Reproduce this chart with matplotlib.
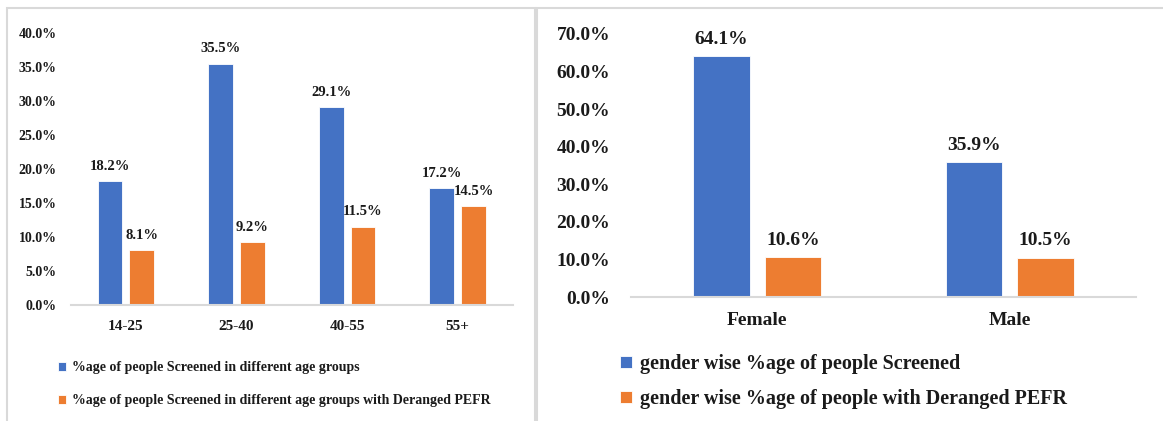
import matplotlib
matplotlib.use("Agg")
import matplotlib.pyplot as plt
from matplotlib.patches import Rectangle
import numpy as np

plt.rcParams['font.family'] = ['Liberation Serif', 'DejaVu Serif']
plt.rcParams['font.weight'] = 'bold'

# Data
age_groups = ["14-25", "25-40", "40-55", "55+"]
age_screened = [18.2, 35.5, 29.1, 17.2]
age_deranged = [8.1, 9.2, 11.5, 14.5]
age_labels = ["%age of people Screened in different age groups",
              "%age of people Screened in different age groups with Deranged PEFR"]

genders = ["Female", "Male"]
gender_screened = [64.1, 35.9]
gender_deranged = [10.6, 10.5]
gender_labels = ["gender wise %age of people Screened",
                 "gender wise %age of people with Deranged PEFR"]

BLUE = "#4472C4"
ORANGE = "#ED7D31"
TXT = "#1a1a1a"
GRID = "#D9D9D9"

W, H = 1163, 421
fig = plt.figure(figsize=(W / 100, H / 100), dpi=100)

# panel borders
def px_rect(x0, y0, x1, y1):
    return Rectangle((x0 / W, 1 - y1 / H), (x1 - x0) / W, (y1 - y0) / H,
                     transform=fig.transFigure, fill=False, edgecolor=GRID, lw=1.5)
fig.patches.append(px_rect(7, 8, 535, 430))
fig.patches.append(px_rect(537, 8, 1170, 430))


def panel(rect, cats, s1, s2, labels, ymax, ystep, tick_fs, lab_fs, xt_fs, leg_fs,
          bw, off, ypad, xpad, leg_anchor, leg_spacing):
    ax = fig.add_axes(rect)
    x = np.arange(len(cats))
    b1 = ax.bar(x - off, s1, bw, color=BLUE, edgecolor='white', lw=0.6, label=labels[0])
    b2 = ax.bar(x + off, s2, bw, color=ORANGE, edgecolor='white', lw=0.6, label=labels[1])
    for bars in (b1, b2):
        for r in bars:
            ax.annotate(f"{r.get_height():.1f}%", (r.get_x() + r.get_width() / 2, r.get_height()),
                        xytext=(0, 6), textcoords='offset points', ha='center', va='bottom',
                        fontsize=lab_fs, fontweight='bold', color=TXT)
    ax.set_xlim(-0.5, len(cats) - 0.5)
    ax.set_ylim(0, ymax)
    ticks = np.arange(0, ymax + 0.01, ystep)
    ax.set_yticks(ticks)
    ax.set_yticklabels([f"{t:.1f}%" for t in ticks], fontsize=tick_fs, fontweight='bold', color=TXT)
    ax.set_xticks(x)
    ax.set_xticklabels(cats, fontsize=xt_fs, fontweight='bold', color=TXT)
    for s in ['top', 'right', 'left']:
        ax.spines[s].set_visible(False)
    ax.spines['bottom'].set_color(GRID)
    ax.spines['bottom'].set_linewidth(1.5)
    ax.tick_params(axis='both', length=0)
    ax.tick_params(axis='y', pad=ypad)
    ax.tick_params(axis='x', pad=xpad)
    ax.legend(loc='upper left', bbox_to_anchor=leg_anchor, bbox_transform=fig.transFigure,
              frameon=False, prop={'size': leg_fs, 'weight': 'bold'},
              handlelength=0.6, handleheight=0.6, handletextpad=0.4,
              labelspacing=leg_spacing, borderpad=0, borderaxespad=0)
    for t in ax.get_legend().get_texts():
        t.set_color(TXT)
    return ax


# left panel
panel([70.6 / W, (H - 305) / H, (513 - 70.6) / W, (305 - 33) / H],
      age_groups, age_screened, age_deranged, age_labels,
      40, 5, 10, 10.5, 11, 10,
      0.225, 0.144, 10, 10.5, (58 / W, 1 - 361 / H), 1.45)

# right panel
panel([631 / W, (H - 297) / H, (1136 - 631) / W, (297 - 34) / H],
      genders, gender_screened, gender_deranged, gender_labels,
      70, 10, 14, 14, 14, 14.5,
      0.223, 0.142, 15, 11, (620 / W, 1 - 354 / H), 0.75)

fig.savefig("out.png", dpi=100)
